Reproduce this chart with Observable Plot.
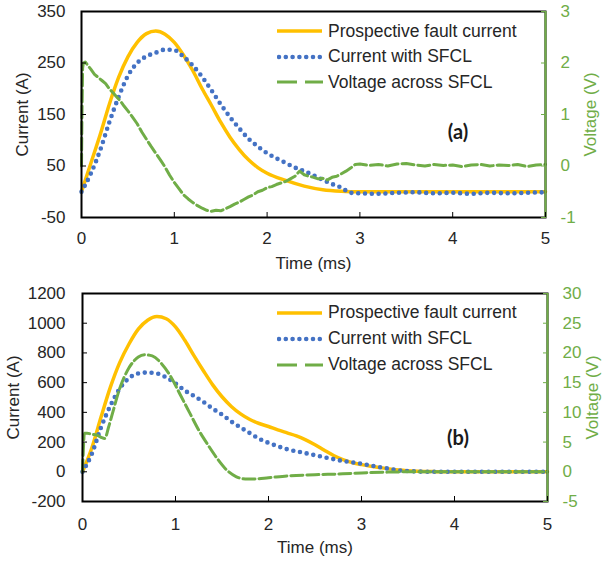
<!DOCTYPE html>
<html><head><meta charset="utf-8">
<script src="https://cdn.jsdelivr.net/npm/d3@7"></script>
<script src="https://cdn.jsdelivr.net/npm/@observablehq/plot@0.6"></script>
<style>
body{margin:0;background:#fff;font-family:"Liberation Sans",Arial,sans-serif;}
#wrap{width:603px;}
.panel{position:relative;width:603px;}
.legend{position:absolute;left:277px;top:0;font-size:17.5px;color:#262626;}
.row{position:absolute;left:0;white-space:nowrap;display:flex;align-items:center;height:20px;}
.row svg{margin-right:5px;display:block}
.tag{position:absolute;font-family:Lato,"Liberation Sans",sans-serif;font-weight:bold;font-size:20px;color:#1a1a1a;transform:translate(-50%,-50%);}
</style></head><body><div id="wrap"></div>
<script>
// ---------- Data: panel (a) ----------
const xTicks = [0, 1, 2, 3, 4, 5];
const yTicksA = [-50, 50, 150, 250, 350];
const vTicksA = [-1, 0, 1, 2, 3];
const tProspA = [0,0.1,0.2,0.3,0.4,0.5,0.6,0.7,0.8,0.9,1.0,1.1,1.2,1.3,1.4,1.5,1.6,1.7,1.8,1.9,2.0,2.2,2.4,2.6,2.8,3.0,3.5,4.0,4.5,5.0];
const iProspA = [0,55,110,170,222,262,290,307,312,306,290,265,235,200,168,135,106,82,62,47,36,22,11,4,1,0,0,0,0,0];
const tCurA = [0,0.1,0.2,0.3,0.4,0.5,0.6,0.7,0.8,0.9,1.0,1.1,1.2,1.3,1.4,1.5,1.6,1.7,1.8,1.9,2.0,2.1,2.2,2.3,2.4,2.5,2.6,2.7,2.8,2.9,3.0,3.2,3.4,3.6,3.8,4.0,4.2,4.4,4.6,4.8,5.0];
const iCurA = [0,35,80,135,184,225,250,263,270,276,275,262,245,223,197,170,145,123,103,88,75,65,56,47,40,32,23,15,8,-2,-3,-4,-2,-1,-3,-2,-4,-2,-3,-2,-1];
const tVoltA = [0,0.005,0.012,0.02,0.04,0.07,0.1,0.14,0.18,0.22,0.26,0.3,0.34,0.38,0.42,0.46,0.5,0.55,0.6,0.65,0.7,0.75,0.8,0.85,0.9,0.95,1.0,1.05,1.1,1.15,1.2,1.25,1.3,1.35,1.4,1.45,1.5,1.55,1.6,1.65,1.7,1.75,1.8,1.85,1.9,1.95,2.0,2.05,2.1,2.15,2.2,2.25,2.3,2.35,2.4,2.45,2.5,2.55,2.6,2.65,2.7,2.75,2.8,2.85,2.9,2.95,3.0,3.1,3.2,3.3,3.4,3.5,3.6,3.7,3.8,3.9,4.0,4.1,4.2,4.3,4.4,4.5,4.6,4.7,4.8,4.9,5.0];
const vVoltA = [0,1.0,1.9,2.0,2.02,1.95,1.88,1.78,1.72,1.66,1.6,1.5,1.42,1.34,1.26,1.16,1.07,0.95,0.82,0.66,0.52,0.38,0.25,0.12,-0.02,-0.18,-0.32,-0.44,-0.56,-0.64,-0.71,-0.77,-0.82,-0.86,-0.88,-0.86,-0.87,-0.83,-0.79,-0.74,-0.7,-0.65,-0.6,-0.56,-0.5,-0.47,-0.42,-0.4,-0.36,-0.33,-0.3,-0.25,-0.2,-0.1,-0.17,-0.2,-0.22,-0.25,-0.24,-0.27,-0.22,-0.2,-0.15,-0.1,-0.04,0.03,0.04,0.01,0.03,0.0,0.04,0.05,0.02,0.0,0.03,0.01,0.02,-0.01,0.02,0.03,0.0,0.02,0.01,0.03,-0.01,0.02,0.03];

// ---------- Data: panel (b) ----------
const yTicksB = [-200, 0, 200, 400, 600, 800, 1000, 1200];
const vTicksB = [-5, 0, 5, 10, 15, 20, 25, 30];
const tProspB = [0,0.1,0.2,0.3,0.4,0.5,0.6,0.7,0.8,0.9,1.0,1.1,1.2,1.3,1.4,1.5,1.6,1.7,1.8,1.9,2.0,2.1,2.2,2.3,2.4,2.5,2.6,2.7,2.8,2.9,3.0,3.2,3.4,3.6,3.8,4.0,4.5,5.0];
const iProspB = [0,160,370,570,735,860,960,1020,1045,1030,975,885,780,680,585,505,440,390,352,325,305,282,262,242,215,182,145,110,82,62,48,28,12,4,1,0,0,0];
const tCurB = [0,0.1,0.2,0.3,0.4,0.5,0.6,0.7,0.8,0.9,1.0,1.1,1.2,1.3,1.4,1.5,1.6,1.7,1.8,1.9,2.0,2.2,2.4,2.6,2.8,3.0,3.2,3.4,3.6,3.8,4.0,4.5,5.0];
const iCurB = [0,120,300,445,560,630,662,668,662,635,595,547,510,470,425,385,338,298,260,222,195,152,125,98,73,54,31,10,2,0,0,0,0];
const tVoltB = [0,0.01,0.02,0.05,0.1,0.15,0.2,0.24,0.28,0.32,0.4,0.5,0.6,0.67,0.75,0.85,0.95,1.05,1.15,1.25,1.35,1.45,1.55,1.65,1.75,1.85,2.0,2.2,2.5,2.8,3.0,3.3,3.5,4.0,4.5,5.0];
const vVoltB = [0,4,6.5,6.5,6.3,6.2,5.8,5.6,7.5,9.7,14,17.5,19.3,19.7,19.5,18.2,16,13,10,7,4.5,2.2,0.3,-0.8,-1.2,-1.2,-1.0,-0.7,-0.5,-0.35,-0.2,-0.05,0,0,0,0];

const seriesNames = ["Prospective fault current", "Current with SFCL", "Voltage across SFCL"];
const panelTags = ["(a)", "(b)"];

// ---------- Styles ----------
const orange = "#FFC000", blue = "#4472C4", green = "#70AD47", ink = "#262626";
const rows = (t, v) => t.map((x, i) => ({t: x, v: v[i]}));

function makePanel(cfg) {
  const plot = Plot.plot({
    width: 603, height: cfg.height,
    marginLeft: cfg.ml, marginRight: cfg.mr, marginTop: cfg.mt, marginBottom: cfg.mb,
    style: {fontSize: "17px", fontFamily: "Liberation Sans, Arial, sans-serif", color: ink, background: "white", overflow: "visible"},
    x: {domain: [0, 5], label: null},
    y: {domain: cfg.yDomain, label: null},
    marks: [
      Plot.line(cfg.prosp, {x: "t", y: "v", stroke: orange, strokeWidth: 3.5, curve: "monotone-x"}),
      Plot.line(cfg.cur, {x: "t", y: "v", stroke: blue, strokeWidth: 4.6, strokeDasharray: "0 6.8", strokeLinecap: "round", curve: "monotone-x"}),
      Plot.line(cfg.volt, {x: "t", y: d => cfg.toY(d.v), stroke: green, strokeWidth: 3, strokeDasharray: "12 4", curve: cfg.voltCurve}),
      Plot.frame({stroke: "#000", strokeWidth: 2}),
      Plot.ruleX([5], {stroke: green, strokeWidth: 2}),
      Plot.axisX({ticks: xTicks, tickFormat: d => String(d), tickSize: -5, tickPadding: cfg.xPad, stroke: "#000", fill: ink, label: null}),
      Plot.axisY({ticks: cfg.yTicks, tickFormat: d => String(d), tickSize: -5, tickPadding: cfg.lPad, stroke: "#000", fill: ink, label: null}),
      Plot.axisY({anchor: "right", ticks: cfg.vTicks.map(cfg.toY), tickFormat: (d, i) => String(cfg.vTicks[i]), tickSize: -5, tickPadding: cfg.rPad, stroke: green, fill: green, label: null}),
      Plot.text(["Time (ms)"], {text: d => d, frameAnchor: "bottom", dy: 46, textAnchor: "middle", lineAnchor: "middle", fill: ink}),
      Plot.text(["Current (A)"], {text: d => d, frameAnchor: "left", dx: cfg.curDx, rotate: -90, textAnchor: "middle", lineAnchor: "middle", fill: ink}),
      Plot.text(["Voltage (V)"], {text: d => d, frameAnchor: "right", dx: cfg.volDx, rotate: -90, textAnchor: "middle", lineAnchor: "middle", fill: green})
    ]
  });
  const div = document.createElement("div");
  div.className = "panel";
  div.appendChild(plot);
  const leg = document.createElement("div");
  leg.className = "legend";
  const swatches = [
    `<line x1="0" y1="5" x2="45" y2="5" stroke="${orange}" stroke-width="3.5"/>`,
    `<line x1="2" y1="5" x2="45" y2="5" stroke="${blue}" stroke-width="4.6" stroke-dasharray="0 6.8" stroke-linecap="round"/>`,
    `<line x1="0" y1="5" x2="46" y2="5" stroke="${green}" stroke-width="3" stroke-dasharray="20 8"/>`
  ];
  seriesNames.forEach((name, i) => {
    const r = document.createElement("div");
    r.className = "row";
    r.style.top = (cfg.legTop + i * cfg.legStep - 10) + "px";
    r.innerHTML = `<svg width="46" height="10">${swatches[i]}</svg><span>${name}</span>`;
    leg.appendChild(r);
  });
  div.appendChild(leg);
  const tag = document.createElement("div");
  tag.className = "tag";
  tag.style.left = "458px";
  tag.style.top = cfg.tagY + "px";
  tag.textContent = cfg.tag;
  div.appendChild(tag);
  return div;
}

const wrap = document.getElementById("wrap");
wrap.appendChild(makePanel({
  height: 280, ml: 81, mr: 58, mt: 11, mb: 63,
  yDomain: [-50, 350], yTicks: yTicksA, vTicks: vTicksA, toY: v => 100 * v + 50,
  prosp: rows(tProspA, iProspA), cur: rows(tCurA, iCurA), volt: rows(tVoltA, vVoltA), voltCurve: "linear",
  xPad: 19, lPad: 21, rPad: 20, curDx: -59, volDx: 45,
  legTop: 31, legStep: 25.5, tag: panelTags[0], tagY: 131
}));
wrap.appendChild(makePanel({
  height: 286, ml: 82, mr: 56, mt: 13, mb: 65,
  yDomain: [-200, 1200], yTicks: yTicksB, vTicks: vTicksB, toY: v => 40 * v,
  prosp: rows(tProspB, iProspB), cur: rows(tCurB, iCurB), volt: rows(tVoltB, vVoltB), voltCurve: "monotone-x",
  xPad: 21, lPad: 22, rPad: 20, curDx: -69, volDx: 45,
  legTop: 32.5, legStep: 26, tag: panelTags[1], tagY: 157
}));
</script>
</body></html>
